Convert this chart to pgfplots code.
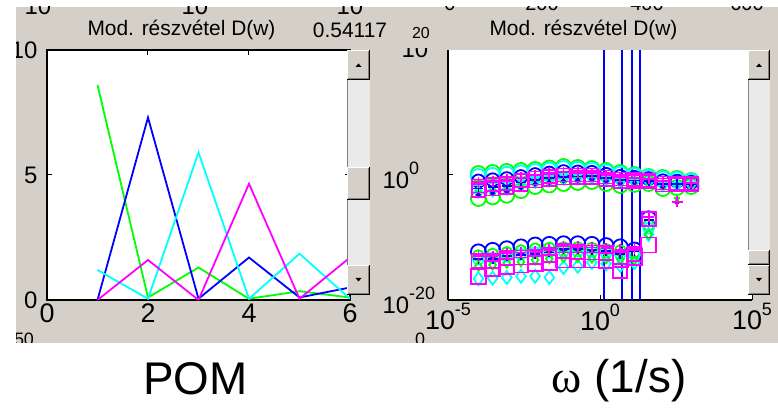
\documentclass[border=0pt]{standalone}
\usepackage{pgfplots}
\usepackage{pgfplotstable}
\pgfplotsset{compat=1.18}
\usepackage{fontspec}
\setmainfont{Liberation Sans}
\newfontfamily\greekserif{Liberation Serif}
\definecolor{winbg}{RGB}{212,208,200}
\definecolor{trough}{RGB}{234,234,234}
\definecolor{dgray}{RGB}{128,128,128}
\definecolor{mgreen}{RGB}{0,255,0}
\definecolor{mblue}{RGB}{0,0,255}
\definecolor{mcyan}{RGB}{0,255,255}
\definecolor{mmag}{RGB}{255,0,255}
\newcommand{\supx}[1]{\raisebox{14bp}{\fontsize{18}{18}\selectfont #1}}
\newcommand{\winbtn}[4]{%
  \fill[winbg] (#1,#2) rectangle (#3,#4);
  \draw[white,line width=1bp] (#1+0.5,#4-1) -- (#1+0.5,#2+0.5) -- (#3-1,#2+0.5);
  \draw[black,line width=1bp] (#1,#4-0.5) -- (#3-0.5,#4-0.5) -- (#3-0.5,#2);
  \draw[dgray,line width=1bp] (#1+1,#4-1.5) -- (#3-1.5,#4-1.5) -- (#3-1.5,#2+1);
}
\newcommand{\scrollbar}[4]{%
  \fill[trough] (#1,80) rectangle (#2,265);
  \draw[dgray,line width=1bp] (#1+0.5,80) -- (#1+0.5,265);
  \winbtn{#1}{50}{#2}{80}
  \winbtn{#1}{#3}{#2}{#4}
  \winbtn{#1}{265}{#2}{295}
  \fill[black] ({(#1+#2)/2-3},67) -- ({(#1+#2)/2+3},67) -- ({(#1+#2)/2},63.5) -- cycle;
  \fill[black] ({(#1+#2)/2-3},278) -- ({(#1+#2)/2+3},278) -- ({(#1+#2)/2},281.5) -- cycle;
}
% upper band (log10 values)
\pgfplotstableread{
lx gO cO bO mP cP mS bP mSb cD gX bD gB
-4 0.24 -0.24 -0.96 -1.16 -1.56 -1.76 -2.16 -2.48 -2.76 -2.96 -3.16 -3.76
-3.533 0.4 -0.07 -0.77 -0.97 -1.36 -1.55 -1.94 -2.25 -2.53 -2.72 -2.92 -3.5
-3.067 0.56 0.11 -0.58 -0.77 -1.15 -1.34 -1.71 -2.02 -2.28 -2.47 -2.66 -3.23
-2.6 0.72 0.33 -0.25 -0.41 -0.73 -0.89 -1.21 -1.47 -1.7 -1.86 -2.02 -2.5
-2.133 0.88 0.55 0.06 -0.07 -0.34 -0.48 -0.75 -0.97 -1.16 -1.3 -1.43 -1.84
-1.667 1.12 0.79 0.3 0.17 -0.1 -0.24 -0.51 -0.73 -0.92 -1.06 -1.19 -1.6
-1.2 1.36 1.03 0.54 0.41 0.14 0.0 -0.27 -0.49 -0.68 -0.82 -0.95 -1.36
-0.733 1.2 0.91 0.48 0.36 0.12 0.0 -0.24 -0.43 -0.6 -0.72 -0.84 -1.2
-0.267 1.04 0.79 0.42 0.31 0.1 0.0 -0.21 -0.37 -0.52 -0.62 -0.73 -1.04
0.2 0.72 0.47 0.1 -0.01 -0.22 -0.32 -0.53 -0.69 -0.84 -0.94 -1.05 -1.36
0.667 0.4 0.15 -0.22 -0.33 -0.54 -0.64 -0.85 -1.01 -1.16 -1.26 -1.37 -1.68
1.133 0.08 -0.11 -0.39 -0.47 -0.63 -0.71 -0.87 -0.99 -1.11 -1.18 -1.26 -1.5
1.6 -0.24 -0.37 -0.58 -0.63 -0.74 -0.8 -0.91 -1.0 -1.08 -1.14 -1.19 -1.36
2.067 -0.4 -0.61 -0.93 -1.02 -1.19 -1.28 -1.46 -1.6 -1.72 -1.81 -1.9 -2.16
2.533 -0.56 -0.73 -0.99 -4.3 -1.21 -1.28 -1.42 -1.54 -1.64 -4.0 -4.4 -2.0
3.0 -0.88 -1.0 -1.17 -1.22 -1.31 -1.36 -1.46 -1.53 -1.6 -1.65 -1.7 -1.84
}\uppertab
% lower band (log10 values)
\pgfplotstableread{
lx bO gO cO mP mS mSb bP cD gD
-4 -12.3 -12.9 -13.5 -13.0 -13.8 -16.2 -13.4 -16.6 -14.6
-3.533 -12.05 -12.65 -13.25 -13.0 -13.8 -15.0 -13.4 -16.5 -14.4
-3.067 -11.8 -12.4 -13.0 -12.5 -13.3 -14.6 -12.9 -16.4 -14.1
-2.6 -11.5 -12.1 -12.7 -12.4 -13.2 -14.4 -12.8 -16.2 -13.9
-2.133 -11.2 -11.8 -12.4 -12.3 -13.1 -14.2 -12.7 -16.2 -13.6
-1.667 -11.1 -11.7 -12.3 -12.0 -12.8 -14.0 -12.4 -16.4 -13.4
-1.2 -11.0 -11.6 -12.2 -11.4 -12.2 -13.6 -11.8 -14.8 -13.2
-0.733 -11.0 -11.6 -12.2 -11.5 -12.3 -13.6 -11.9 -14.6 -13.2
-0.267 -11.1 -11.7 -12.3 -11.6 -12.4 -13.6 -12.0 -14.0 -13.3
0.2 -11.3 -11.9 -12.5 -11.7 -12.5 -13.7 -12.1 -14.2 -13.4
0.667 -11.5 -12.1 -12.7 -12.0 -15.4 -13.5 -12.6 -14.5 -13.5
1.133 -12.0 -12.4 -12.8 -11.8 -12.6 -13.2 -12.2 -14.0 -13.6
1.6 -7.0 -8.0 -8.5 -6.7 -7.0 -11.2 -7.2 -9.5 -9.5
}\lowertab
\begin{document}
\begin{tikzpicture}
\useasboundingbox (0,0) rectangle (778bp,409bp);
\fill[white] (0,0) rectangle (778bp,409bp);
\begin{scope}[x=1bp,y=-1bp,yshift=409bp]
  \fill[winbg] (16,7) rectangle (778,343);
\end{scope}
% ---------- left axis ----------
\begin{axis}[at={(47bp,109bp)}, anchor=south west, scale only axis,
  width=303bp, height=250bp,
  xmin=0, xmax=6, ymin=0, ymax=10,
  xtick={0,2,4,6}, ytick={0,5,10},
  tick align=inside, major tick length=5bp,
  every tick/.style={black,line width=1bp},
  axis line style={black,line width=1.2bp},
  axis background/.style={fill=white},
  xticklabel style={font=\fontsize{27}{30}\selectfont},
  yticklabel style={font=\fontsize{24}{28}\selectfont, xshift=-6bp},
  /pgf/number format/assume math mode=true]
\addplot[mgreen, line width=1.8bp] coordinates {(1,8.6)(2,0.1)(3,1.3)(4,0.05)(5,0.35)(6,0.1)};
\addplot[mblue, line width=1.8bp] coordinates {(1,0)(2,7.3)(3,0.05)(4,1.7)(5,0.1)(6,0.5)};
\addplot[mcyan, line width=1.8bp] coordinates {(1,1.2)(2,0.05)(3,5.9)(4,0.05)(5,1.85)(6,0.05)};
\addplot[mmag, line width=1.8bp] coordinates {(1,0)(2,1.6)(3,0)(4,4.65)(5,0.05)(6,1.7)};
\end{axis}
% ---------- right axis ----------
\begin{axis}[at={(448bp,109bp)}, anchor=south west, scale only axis,
  width=304bp, height=250bp,
  xmin=-5, xmax=5, ymin=-20, ymax=20,
  xtick={-5,0,5}, ytick={-20,0},
  xticklabels={10\supx{-5},10\supx{0},10\supx{5}},
  yticklabels={10\supx{-20},10\supx{0}},
  axis x line*=bottom, axis y line*=left,
  tick align=inside, major tick length=5bp,
  every tick/.style={black,line width=1bp},
  axis line style={-,black,line width=1.2bp},
  axis background/.style={fill=white},
  xticklabel style={font=\fontsize{27}{30}\selectfont},
  yticklabel style={font=\fontsize{24}{28}\selectfont, anchor=west, xshift=-69bp},
  every axis plot/.append style={only marks, line width=1.8bp}]
\addplot[mgreen, mark=o, mark size=7.5bp] table[x=lx,y=gO] {\uppertab};
\addplot[mgreen, mark=o, mark size=7.5bp] table[x=lx,y=gB] {\uppertab};
\addplot[mcyan, mark=o, mark size=7.5bp] table[x=lx,y=cO] {\uppertab};
\addplot[mblue, mark=o, mark size=6.5bp] table[x=lx,y=bO] {\uppertab};
\addplot[mcyan, mark=diamond, mark size=5.5bp] table[x=lx,y=cD] {\uppertab};
\addplot[mgreen, mark=x, mark size=4bp] table[x=lx,y=gX] {\uppertab};
\addplot[mcyan, mark=+, mark size=5bp] table[x=lx,y=cP] {\uppertab};
\addplot[mblue, mark=+, mark size=5bp] table[x=lx,y=bP] {\uppertab};
\addplot[mblue, mark=*, mark size=1.5bp] table[x=lx,y=bD] {\uppertab};
\addplot[mmag, mark=square, mark size=6.5bp] table[x=lx,y=mSb] {\uppertab};
\addplot[mmag, mark=square, mark size=6.5bp] table[x=lx,y=mS] {\uppertab};
\addplot[mmag, mark=+, mark size=5.5bp] table[x=lx,y=mP] {\uppertab};
\addplot[mblue, mark=o, mark size=7.5bp] table[x=lx,y=bO] {\lowertab};
\addplot[mgreen, mark=o, mark size=5.5bp] table[x=lx,y=gO] {\lowertab};
\addplot[mcyan, mark=o, mark size=5.5bp] table[x=lx,y=cO] {\lowertab};
\addplot[mcyan, mark=diamond, mark size=6.5bp] table[x=lx,y=cD] {\lowertab};
\addplot[mgreen, mark=diamond, mark size=4.5bp] table[x=lx,y=gD] {\lowertab};
\addplot[mblue, mark=+, mark size=5bp] table[x=lx,y=bP] {\lowertab};
\addplot[mmag, mark=square, mark size=7.5bp] table[x=lx,y=mSb] {\lowertab};
\addplot[mmag, mark=square, mark size=7bp] table[x=lx,y=mS] {\lowertab};
\addplot[mmag, mark=+, mark size=5.5bp] table[x=lx,y=mP] {\lowertab};
\addplot[mblue, no marks, sharp plot, line width=2bp] coordinates {(0.13,-20)(0.13,20)};
\addplot[mblue, no marks, sharp plot, line width=2bp] coordinates {(0.72,-20)(0.72,20)};
\addplot[mblue, no marks, sharp plot, line width=2bp] coordinates {(1.05,-20)(1.05,20)};
\addplot[mblue, no marks, sharp plot, line width=2bp] coordinates {(1.32,-20)(1.32,20)};
\end{axis}
% ---------- masks, scrollbars, texts ----------
\begin{scope}[x=1bp,y=-1bp,yshift=409bp]
  \fill[white] (0,0) rectangle (16,409);
  \fill[white] (0,0) rectangle (778,7);
  \fill[white] (0,343) rectangle (778,409);
  \scrollbar{347}{370}{167}{200}
  \scrollbar{748}{770}{250}{265}
  \begin{scope}
    \clip (16,7) rectangle (778,343);
    \node[anchor=base, font=\fontsize{24}{24}\selectfont, inner sep=0] at (38,15) {10};
    \node[anchor=base, font=\fontsize{24}{24}\selectfont, inner sep=0] at (195,15) {10};
    \node[anchor=base, font=\fontsize{24}{24}\selectfont, inner sep=0] at (350,15) {10};
    \node[anchor=base, font=\fontsize{20}{20}\selectfont, inner sep=0] at (450,10.5) {0};
    \node[anchor=base, font=\fontsize{20}{20}\selectfont, inner sep=0] at (542,10.5) {200};
    \node[anchor=base, font=\fontsize{20}{20}\selectfont, inner sep=0] at (647,10.5) {400};
    \node[anchor=base, font=\fontsize{20}{20}\selectfont, inner sep=0] at (747,10.5) {600};
    \node[anchor=base, font=\fontsize{18}{18}\selectfont, inner sep=0] at (24,346) {50};
    \node[anchor=base, font=\fontsize{18}{18}\selectfont, inner sep=0] at (420,346) {0};
  \end{scope}
  \begin{scope}
    \clip (395,49) rectangle (440,62);
    \node[anchor=base, font=\fontsize{24}{24}\selectfont, inner sep=0] at (415,58) {10};
  \end{scope}
  \node[font=\fontsize{16}{16}\selectfont, inner sep=0] at (421,33) {20};
  \node[font=\fontsize{21}{24}\selectfont, inner sep=0] at (181.5,30) {Mod. részvétel D(w)};
  \node[font=\fontsize{21}{24}\selectfont, inner sep=0] at (350,30) {0.54117};
  \node[font=\fontsize{21}{24}\selectfont, inner sep=0] at (583.5,30) {Mod. részvétel D(w)};
  \node[font=\fontsize{46}{50}\selectfont, inner sep=0] at (195.5,379) {POM};
  \node[font=\fontsize{46}{50}\selectfont, inner sep=0] at (619,381) {{\greekserif ω} (1/s)};
\end{scope}
\end{tikzpicture}
\end{document}
